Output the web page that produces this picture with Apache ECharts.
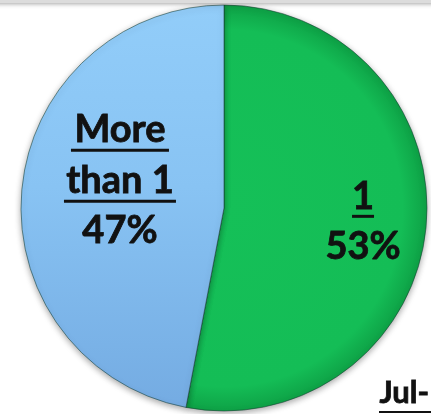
<!DOCTYPE html>
<html>
<head>
<meta charset="utf-8">
<script src="https://cdn.jsdelivr.net/npm/echarts@6/dist/echarts.min.js"></script>
<style>
  html, body { margin: 0; padding: 0; background: #fff; }
  #main { width: 431px; height: 414px; }
</style>
</head>
<body>
<div id="main"></div>
<script>
  // 数据
  const categories = ['1', 'More\nthan 1']
  const shares = [53, 47]
  const periodLabel = 'Jul-'

  // 下划线宽度（按行）
  const underline_width = { '1': 22, 'More': 98, 'than 1': 112 }
  // 标签偏移
  const label_shift = [{ dx: 35, dy: 3 }, { dx: 0, dy: -18 }]

  const cx = 224
  const cy = 208
  const R = 203
  const family = 'Lato, Carlito, "Open Sans", sans-serif'

  const slice_fill = [
    {
      type: 'radial', x: cx, y: cy, r: R, global: true,
      colorStops: [
        { offset: 0, color: '#15c058' },
        { offset: 0.88, color: '#14bd56' },
        { offset: 1, color: '#0ea246' }
      ]
    },
    {
      type: 'linear', x: 0, y: cy - R, x2: 0, y2: cy + R, global: true,
      colorStops: [
        { offset: 0, color: '#92cdf9' },
        { offset: 0.45, color: '#88c3f3' },
        { offset: 1, color: '#74abe2' }
      ]
    }
  ]

  const chart = echarts.init(document.getElementById('main'))

  chart.setOption({
    backgroundColor: '#fff',
    animation: false,
    graphic: [
      {
        type: 'rect',
        shape: { x: -5, y: -4, width: 441, height: 7 },
        style: { fill: '#dcdcdc', shadowBlur: 4, shadowColor: 'rgba(0,0,0,0.35)', shadowOffsetY: 1 },
        z: 10
      },
      {
        type: 'text',
        left: 379,
        top: 377,
        style: { text: periodLabel, font: 'bold 31px ' + family, fill: '#111', stroke: '#111', lineWidth: 0.8 },
        z: 10
      },
      {
        type: 'rect',
        shape: { x: 379, y: 411, width: 60, height: 2 },
        style: { fill: '#111' },
        z: 10
      }
    ],
    series: [{
      type: 'pie',
      center: [cx, cy],
      radius: [0, R],
      startAngle: 90,
      clockwise: true,
      silent: true,
      emphasis: { disabled: true },
      data: categories.map((name, i) => ({
        name: name,
        value: shares[i],
        itemStyle: { color: slice_fill[i] }
      })),
      itemStyle: {
        borderColor: 'rgba(20, 60, 50, 0.55)',
        borderWidth: 1,
        shadowBlur: 6,
        shadowColor: 'rgba(0, 0, 0, 0.35)',
        shadowOffsetY: 2
      },
      label: {
        show: true,
        position: 'inside',
        align: 'center',
        formatter: function(params) {
          const rows = params.name.split('\n').map(function(t) {
            return '{t|' + t + '}\n{ul' + underline_width[t] + '| }'
          })
          return rows.join('\n') + '\n{p|' + params.percent.toFixed(0) + '%}'
        },
        rich: (function() {
          const txt = {
            fontSize: 38, fontWeight: 'bold', fontFamily: family, color: '#111',
            textBorderColor: '#111', textBorderWidth: 0.8, align: 'center'
          }
          const r = {
            t: Object.assign({ lineHeight: 37 }, txt),
            p: Object.assign({ lineHeight: 35 }, txt)
          }
          Object.keys(underline_width).forEach(function(k) {
            const w = underline_width[k]
            r['ul' + w] = {
              width: w, height: 3, lineHeight: 14, verticalAlign: 'top',
              backgroundColor: '#111', fontSize: 1, align: 'center'
            }
          })
          return r
        })()
      },
      labelLine: { show: false },
      labelLayout: function(params) {
        return label_shift[params.dataIndex]
      }
    }]
  })
</script>
</body>
</html>
